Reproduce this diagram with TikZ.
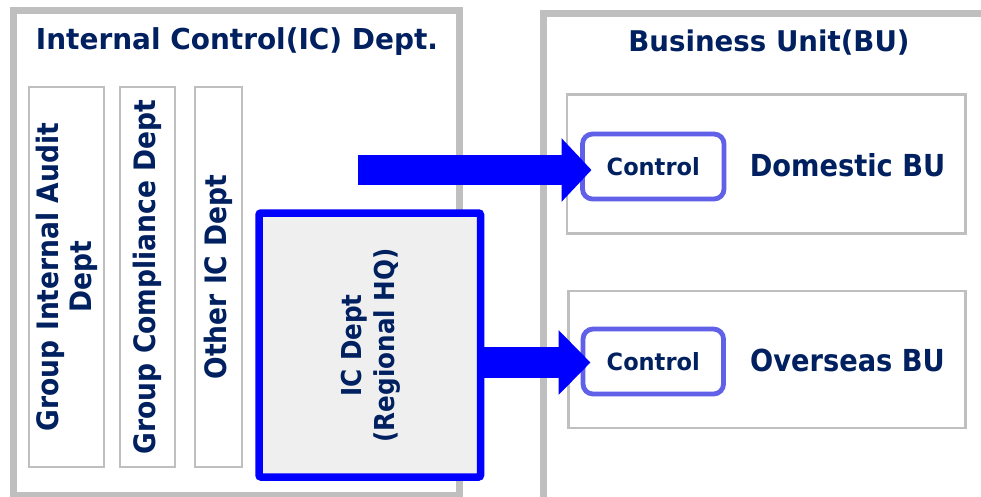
\documentclass[tikz,border=0pt]{standalone}
\usepackage{fontspec}
\setmainfont{DejaVu Sans}
\newfontfamily\fA[FakeStretch=0.97]{DejaVu Sans}
\newfontfamily\fB[FakeStretch=0.9]{DejaVu Sans}
\newfontfamily\fC[FakeStretch=0.95]{DejaVu Sans}
\usetikzlibrary{arrows.meta}
\definecolor{gbord}{RGB}{191,191,191}
\definecolor{navy}{RGB}{0,32,96}
\definecolor{pureblue}{RGB}{0,0,255}
\definecolor{ctrlblue}{RGB}{96,96,232}
\definecolor{icfill}{RGB}{239,239,239}
\tikzset{
  frame/.style={draw=gbord, line width=7pt, inner sep=0pt, outer sep=0pt, fill=white},
  colbox/.style={draw=gbord, line width=2pt, inner sep=0pt, fill=white},
  bubox/.style={draw=gbord, line width=2.2pt, inner sep=0pt, fill=white},
  icbox/.style={draw=pureblue, line width=7.5pt, rounded corners=2pt, fill=icfill, inner sep=0pt, outer sep=0pt},
  ctrlbox/.style={draw=ctrlblue, line width=4.8pt, rounded corners=10pt, fill=white, inner sep=0pt, outer sep=0pt,
    text=navy, font=\fC\bfseries\fontsize{23.7}{28}\selectfont},
  titletext/.style={text=navy, font=\fA\bfseries\fontsize{28.8}{34}\selectfont, inner sep=0pt, anchor=base},
  butext/.style={text=navy, font=\fB\bfseries\fontsize{30.3}{36}\selectfont, inner sep=0pt, anchor=base},
  coltext/.style={text=navy, font=\fB\bfseries\fontsize{29.5}{33}\selectfont, inner sep=0pt, rotate=90, align=center},
  bigarrow/.style={draw=pureblue, line width=30pt, -{Triangle[length=30pt,width=62pt]}},
}
\begin{document}
\begin{tikzpicture}[x=1pt,y=-1pt]
\useasboundingbox (0,0) rectangle (981,496);
\begin{scope}
\clip (0,0) rectangle (981,496);
% outer frames
\node[frame, minimum width=446.5pt, minimum height=484.5pt] (icdept) at (236.25,252.75) {};
\node[frame, minimum width=457pt, minimum height=492pt] (bu) at (771.5,259) {};
% titles
\node[titletext] (ictitle) at (237,49.3) {Internal Control(IC) Dept.};
\node[titletext, font=\fA\bfseries\fontsize{28.5}{34}\selectfont] (butitle) at (769,51.7) {Business Unit(BU)};
% columns
\node[colbox, minimum width=75pt, minimum height=380pt] (col1) at (66.5,277) {};
\node[colbox, minimum width=55pt, minimum height=380pt] (col2) at (147.5,277) {};
\node[colbox, minimum width=47.5pt, minimum height=380pt] (col3) at (218.25,277) {};
\node[coltext] (t1) at (col1.center) {Group Internal Audit\\Dept};
\node[coltext] (t2) at (col2.center) {Group Compliance Dept};
\node[coltext] (t3) at (col3.center) {Other IC Dept};
% regional HQ
\node[icbox, minimum width=221.5pt, minimum height=264pt] (ic) at (369.75,345) {};
\node[coltext, font=\fB\bfseries\fontsize{27.4}{33}\selectfont] (ict) at (371,345.5) {IC Dept\\(Regional HQ)};
% BU boxes
\node[bubox, minimum width=398.5pt, minimum height=139pt] (dom) at (766.25,164) {};
\node[bubox, minimum width=397pt, minimum height=136.6pt] (ovs) at (767,359.5) {};
\node[ctrlbox, minimum width=141.5pt, minimum height=65pt] (c1) at (653.25,166.5) {Control};
\node[ctrlbox, minimum width=140.5pt, minimum height=65pt] (c2) at (653.25,361.5) {Control};
\node[butext] (domt) at (847.5,176.5) {Domestic BU};
\node[butext] (ovst) at (847.5,371.7) {Overseas BU};
% arrows
\coordinate (a1s) at (358,170);
\coordinate (a1e) at (591.5,170);
\coordinate (a2e) at (590.5,362.5);
\draw[bigarrow] (a1s) -- (a1e);
\draw[bigarrow, line width=31pt, -{Triangle[length=32pt,width=63pt]}] (a2e -| ic.east) -- (a2e);
\end{scope}
\end{tikzpicture}
\end{document}
